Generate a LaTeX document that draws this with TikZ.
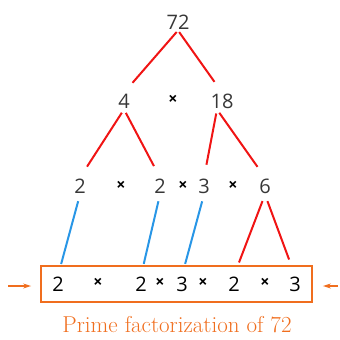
\documentclass[tikz,border=0pt]{standalone}
\usepackage{fontspec}
\newfontfamily\numfont{Open Sans}
\usetikzlibrary{arrows.meta,fit}
\definecolor{Ink}{RGB}{55,55,55}
\definecolor{TreeRed}{RGB}{240,20,20}
\definecolor{LinkBlue}{RGB}{40,150,230}
\definecolor{Tang}{RGB}{240,110,30}
\tikzset{
  fnum/.style={font=\numfont\fontsize{20}{20}\selectfont,text=Ink,inner sep=1pt},
  fmul/.style={font=\numfont\bfseries\fontsize{16}{16}\selectfont,text=black,inner sep=1pt},
  pnum/.style={font=\numfont\fontsize{20}{20}\selectfont,text=black,inner sep=1pt},
  redge/.style={TreeRed,line width=2pt,shorten <=4pt,shorten >=13pt},
  bedge/.style={LinkBlue,line width=2pt,shorten <=7pt,shorten >=12pt},
  pbox/.style={draw=Tang,line width=2pt,inner xsep=10pt,inner ysep=9pt},
  parrow/.style={-{Stealth[length=8pt,width=5pt]},Tang,line width=1.4pt},
  pcap/.style={font=\fontsize{23}{23}\selectfont,text=Tang},
}

\begin{document}
\begin{tikzpicture}[x=1pt,y=-1pt]
  \useasboundingbox (0,0) rectangle (340,340);
  % factor tree
  \node[fnum] (n72) at (178,22) {72};
  \node[fnum] (n4) at (124,101) {4};
  \node[fmul] (m1) at (173,100) {×};
  \node[fnum] (n18) at (222,101) {18};
  \node[fnum] (n2a) at (80,186) {2};
  \node[fmul] (m2) at (121,186) {×};
  \node[fnum] (n2b) at (160,186) {2};
  \node[fmul] (m3) at (183,186) {×};
  \node[fnum] (n3) at (204,186) {3};
  \node[fmul] (m4) at (233,186) {×};
  \node[fnum] (n6) at (265,186) {6};
  % primes
  \node[pnum] (b1) at (58,284) {2};
  \node[fmul] (b2) at (98,283) {×};
  \node[pnum] (b3) at (141,284) {2};
  \node[fmul] (b4) at (160,283) {×};
  \node[pnum] (b5) at (182,284) {3};
  \node[fmul] (b6) at (203,283) {×};
  \node[pnum] (b7) at (234,284) {2};
  \node[fmul] (b8) at (265,283) {×};
  \node[pnum] (b9) at (295,284) {3};
  \node[pbox,fit=(b1)(b9)] (row) {};
  \node[pcap] (cap) at (177,325) {Prime factorization of 72};

  \draw[redge,shorten <=2pt] (n72.south) -- (n4.north);
  \draw[redge,shorten <=2pt] (n72.south) -- (n18.north);
  \draw[redge] (n4.south) -- (n2a.north);
  \draw[redge] (n4.south) -- (n2b.north);
  \draw[redge] ([xshift=-5pt]n18.south) -- (n3.north);
  \draw[redge] ([xshift=-5pt]n18.south) -- (n6.north);
  \draw[bedge] (n2a.south) -- (b1.north);
  \draw[bedge] (n2b.south) -- (b3.north);
  \draw[bedge] (n3.south) -- (b5.north);
  \draw[redge,shorten <=7pt,shorten >=14pt] (n6.south) -- (b7.north);
  \draw[redge,shorten <=7pt,shorten >=17pt] (n6.south) -- (b9.north);

  \coordinate (lin) at (8,286);
  \coordinate (rin) at (338,286);
  \draw[parrow,shorten >=9pt] (lin) -- (lin -| row.west);
  \draw[parrow,shorten >=10pt] (rin) -- (rin -| row.east);
\end{tikzpicture}
\end{document}
